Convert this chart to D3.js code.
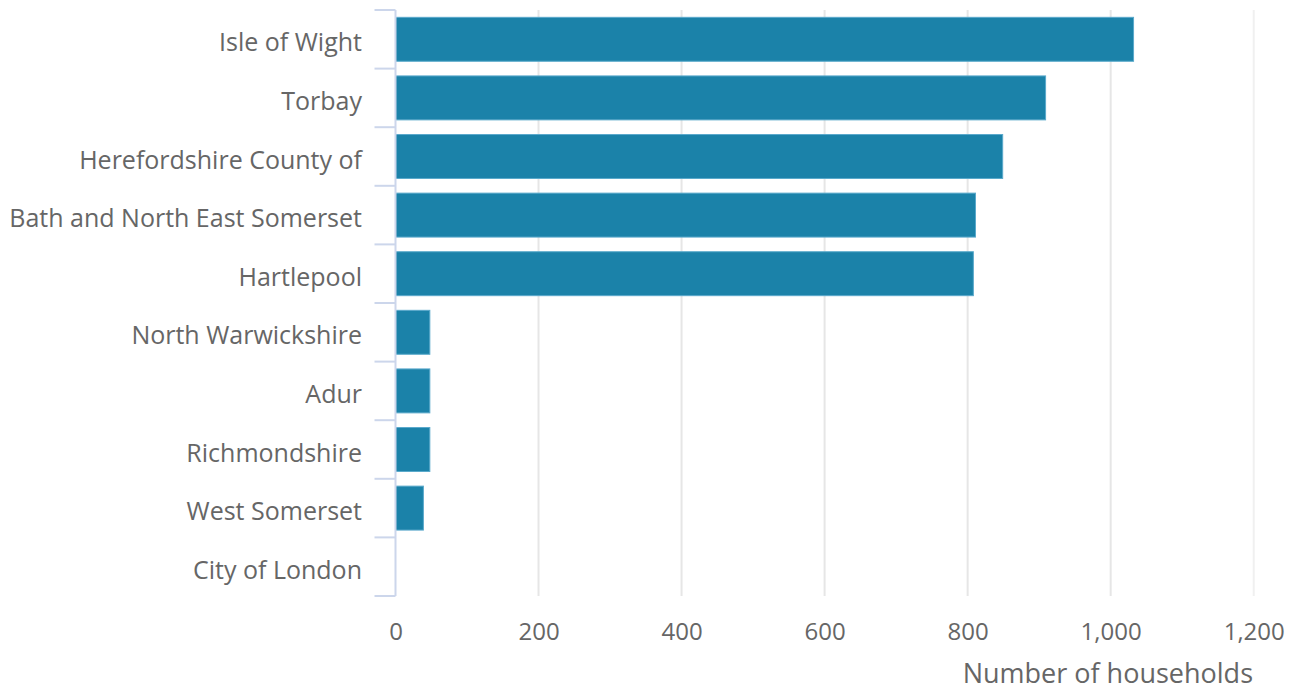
<!DOCTYPE html>
<html>
<head>
<meta charset="utf-8">
<script src="https://cdn.jsdelivr.net/npm/d3@7"></script>
<style>
  html, body { margin: 0; padding: 0; background: #fff; }
  svg text { font-family: 'Open Sans', sans-serif; }
</style>
</head>
<body>
<div id="chart"></div>
<script>
// Households by local authority
const areas = [
    'Isle of Wight', 'Torbay', 'Herefordshire County of',
    'Bath and North East Somerset', 'Hartlepool', 'North Warwickshire',
    'Adur', 'Richmondshire', 'West Somerset', 'City of London'
];
const households = [1032, 909, 849, 811, 808, 48, 48, 48, 39, 0];
const xTicks = [0, 200, 400, 600, 800, 1000, 1200];

const width = 1294, height = 691;
const margin = { top: 10, right: 40, bottom: 95, left: 395.5 };

const svg = d3.select('#chart')
    .append('svg')
    .attr('width', width)
    .attr('height', height);

const x = d3.scaleLinear()
    .domain([0, 1200])
    .range([margin.left, 1253.7]);

const y = d3.scaleBand()
    .domain(areas)
    .range([margin.top, height - margin.bottom])
    .paddingInner(0.25)
    .paddingOuter(0.125);

// grid lines
svg.append('g')
    .selectAll('line')
    .data(xTicks.slice(1))
    .join('line')
    .attr('x1', d => x(d)).attr('x2', d => x(d))
    .attr('y1', margin.top).attr('y2', height - margin.bottom)
    .attr('stroke', d => d === 1200 ? '#f0f0f0' : '#e6e6e6')
    .attr('stroke-width', 2);

// bars
svg.append('g')
    .selectAll('rect')
    .data(areas)
    .join('rect')
    .attr('x', x(0))
    .attr('y', d => y(d))
    .attr('width', (d, i) => Math.max(0, x(households[i]) - x(0)))
    .attr('height', y.bandwidth())
    .attr('fill', '#1b82a9')
    .attr('stroke', '#5aa9cb')
    .attr('stroke-width', 1);

// category axis: line + ticks between bands
const bandTop = margin.top;
const bandBottom = height - margin.bottom;
const yAxis = svg.append('g');
yAxis.append('line')
    .attr('x1', margin.left).attr('x2', margin.left)
    .attr('y1', bandTop).attr('y2', bandBottom)
    .attr('stroke', '#ccd6eb').attr('stroke-width', 2);
yAxis.selectAll('line.tick')
    .data(d3.range(areas.length + 1))
    .join('line')
    .attr('class', 'tick')
    .attr('x1', margin.left - 21).attr('x2', margin.left)
    .attr('y1', i => bandTop + i * (bandBottom - bandTop) / areas.length)
    .attr('y2', i => bandTop + i * (bandBottom - bandTop) / areas.length)
    .attr('stroke', '#ccd6eb').attr('stroke-width', 2);
yAxis.selectAll('text')
    .data(areas)
    .join('text')
    .attr('x', 362)
    .attr('y', d => y(d) + y.bandwidth() / 2 + 12)
    .attr('text-anchor', 'end')
    .attr('font-size', '25px')
    .attr('fill', '#666')
    .text(d => d);

// value axis labels
const xAxis = d3.axisBottom(x)
    .tickValues(xTicks)
    .tickSize(0)
    .tickPadding(0)
    .tickFormat(d3.format(','));
const gx = svg.append('g')
    .attr('transform', `translate(0, 640)`)
    .call(xAxis);
gx.select('.domain').remove();
gx.selectAll('text')
    .attr('dy', 0)
    .attr('font-size', '24px')
    .attr('font-family', "'Open Sans', sans-serif")
    .attr('fill', '#666');

svg.append('text')
    .attr('x', 1253)
    .attr('y', 683)
    .attr('text-anchor', 'end')
    .attr('font-size', '27px')
    .attr('fill', '#666')
    .text('Number of households');
</script>
</body>
</html>
